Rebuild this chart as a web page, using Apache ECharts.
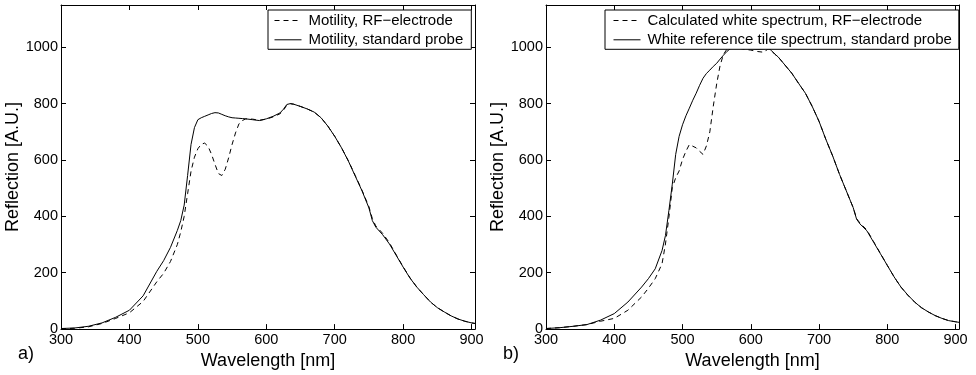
<!DOCTYPE html>
<html>
<head>
<meta charset="utf-8">
<script src="https://cdn.jsdelivr.net/npm/echarts@6/dist/echarts.min.js"></script>
<style>html,body{margin:0;padding:0;background:#fff;}#c{width:976px;height:375px;}</style>
</head>
<body>
<div id="c"></div>
<script>
// Wavelength sample points [nm]
const wavelengths = [300,320,340,360,380,400,420,440,450,460,470,475,480,485,490,495,500,505,510,515,520,525,530,535,540,545,550,555,560,565,570,580,590,600,610,620,625,630,635,640,650,660,670,680,690,700,710,720,730,740,750,755,760,770,780,790,800,810,820,830,840,850,860,870,880,890,900,905];

// Panel a) Motility
const motilityRF = [1,3,8,20,38,58,98,168,198,240,300,345,400,480,560,610,640,656,660,648,620,585,552,545,567,608,655,696,728,740,746,745,741,745,753,764,776,795,800,798,790,781,770,750,720,684,643,597,545,492,434,392,366,340,306,263,221,182,149,122,96,76,61,47,36,28,22,20];
const motilityStd = [2,4,10,22,42,67,118,205,243,290,350,385,440,545,655,715,743,750,755,760,765,768,767,762,757,753,750,749,748,747,746,743,740,746,755,767,780,797,800,798,790,781,770,750,720,684,643,596,543,490,430,385,362,335,302,261,220,181,149,122,96,76,61,47,36,28,22,20];

// Panel b) White spectrum
const whiteRF = [2,5,10,16,28,38,67,114,145,179,232,302,396,502,537,561,602,631,655,649,643,631,620,650,700,790,870,935,975,993,995,998,993,990,985,982,995,989,976,966,937,908,872,837,790,737,673,614,549,490,431,392,376,352,310,268,226,185,149,120,96,76,61,48,38,30,26,24];
const whiteStd = [2,5,10,16,32,55,96,149,179,214,279,332,420,514,620,684,725,757,784,812,837,865,890,907,919,932,943,958,972,985,995,1000,995,995,993,995,999,989,976,966,937,908,872,837,790,737,673,614,549,490,431,390,373,349,308,267,226,185,149,121,96,76,61,48,38,30,26,24];

// Axis ticks
const xTicks = {min: 300, max: 905, interval: 100};
const yTicks = {min: 0, max: 1150, interval: 200};

const pairs = (ys) => wavelengths.map((w, i) => [w, ys[i]]);
const FONT = 'Liberation Sans, Arial, Helvetica, sans-serif';

function xAxes(grid) {
  const base = {
    type: 'value', gridIndex: grid, min: xTicks.min, max: xTicks.max, interval: xTicks.interval,
    splitLine: {show: false},
    axisLine: {show: true, onZero: false, lineStyle: {color: '#000', width: 1}},
    axisTick: {show: true, inside: true, length: 5, lineStyle: {color: '#000'}}
  };
  return [
    Object.assign({}, base, {
      position: 'bottom',
      name: 'Wavelength [nm]', nameLocation: 'middle', nameGap: 22,
      nameTextStyle: {fontFamily: FONT, fontSize: 18, color: '#000'},
      axisLabel: {show: true, margin: 3, fontFamily: FONT, fontSize: 14.5, color: '#000',
        showMaxLabel: true,
        formatter: (v) => (v % xTicks.interval === 0 ? String(v) : '')}
    }),
    Object.assign({}, base, {position: 'top', axisLabel: {show: false}})
  ];
}
function yAxes(grid) {
  const base = {
    type: 'value', gridIndex: grid, min: yTicks.min, max: yTicks.max, interval: yTicks.interval,
    splitLine: {show: false},
    axisLine: {show: true, onZero: false, lineStyle: {color: '#000', width: 1}},
    axisTick: {show: true, inside: true, length: 5, lineStyle: {color: '#000'}}
  };
  return [
    Object.assign({}, base, {
      position: 'left',
      name: 'Reflection [A.U.]', nameLocation: 'middle', nameGap: 30,
      nameTextStyle: {fontFamily: FONT, fontSize: 18, color: '#000'},
      axisLabel: {show: true, margin: 3, fontFamily: FONT, fontSize: 14.5, color: '#000',
        formatter: (v) => (v % yTicks.interval === 0 ? String(v) : '')}
    }),
    Object.assign({}, base, {position: 'right', axisLabel: {show: false}})
  ];
}

function line(name, data, xi, yi, dashed) {
  return {
    type: 'line', name: name, data: data, xAxisIndex: xi, yAxisIndex: yi,
    symbol: 'none', smooth: false, animation: false,
    lineStyle: {color: '#000', width: 1, type: dashed ? [5, 4] : 'solid'},
    itemStyle: {color: '#000'}
  };
}

const legendBase = {
  orient: 'vertical', top: 10, itemWidth: 27, itemHeight: 14, itemGap: 4.3,
  borderColor: '#000', borderWidth: 1, backgroundColor: '#fff',
  itemStyle: {opacity: 0, borderWidth: 0},
  lineStyle: {width: 1},
  textStyle: {fontFamily: FONT, fontSize: 15, color: '#000', lineHeight: 14, padding: [0, 0, 0, 2]},
  selectedMode: false
};

const chart = echarts.init(document.getElementById('c'), null, {renderer: 'canvas'});
chart.setOption({
  animation: false,
  backgroundColor: '#fff',
  grid: [
    {left: 61, top: 5, width: 414, height: 327},
    {left: 546, top: 5, width: 413, height: 327}
  ],
  xAxis: xAxes(0).concat(xAxes(1)),
  yAxis: yAxes(0).concat(yAxes(1)),
  legend: [
    Object.assign({}, legendBase, {left: 268, padding: [3, 8, 2, 6],
      data: ['Motility, RF\u2212electrode', 'Motility, standard probe']}),
    Object.assign({}, legendBase, {left: 605, padding: [3, 7, 2, 8],
      data: ['Calculated white spectrum, RF\u2212electrode', 'White reference tile spectrum, standard probe']})
  ],
  series: [
    line('Motility, RF\u2212electrode', pairs(motilityRF), 0, 0, true),
    line('Motility, standard probe', pairs(motilityStd), 0, 0, false),
    line('Calculated white spectrum, RF\u2212electrode', pairs(whiteRF), 2, 2, true),
    line('White reference tile spectrum, standard probe', pairs(whiteStd), 2, 2, false)
  ],
  graphic: [
    {type: 'text', left: 18, top: 345, style: {text: 'a)', font: '18px ' + FONT, fill: '#000'}},
    {type: 'text', left: 503, top: 345, style: {text: 'b)', font: '18px ' + FONT, fill: '#000'}}
  ]
});
</script>
</body>
</html>
